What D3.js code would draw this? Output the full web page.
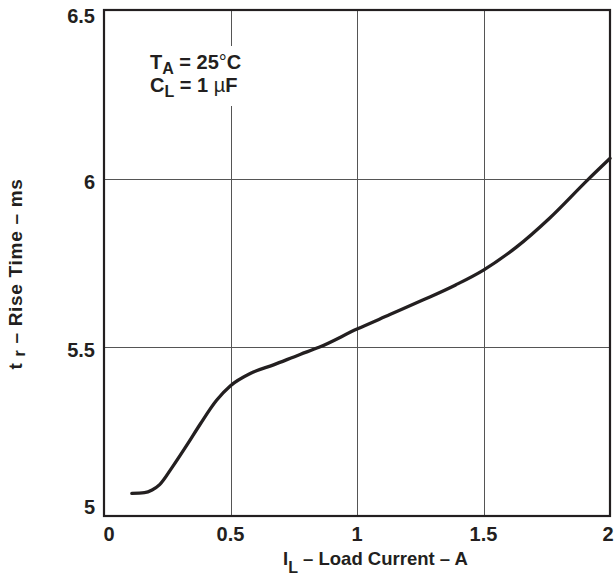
<!DOCTYPE html>
<html>
<head>
<meta charset="utf-8">
<script src="https://cdn.jsdelivr.net/npm/d3@7"></script>
<style>
  html, body { margin: 0; padding: 0; background: #fff; }
  svg { display: block; font-family: "Liberation Sans", Arial, Helvetica, sans-serif; }
</style>
</head>
<body>
<svg id="chart" width="615" height="582"></svg>
<script>
// Load current (A) and rise time (ms) along the curve
const loadCurrent = [0.11, 0.16, 0.19, 0.22, 0.27, 0.33, 0.38, 0.445, 0.5, 0.58, 0.67, 0.775, 0.85, 1.0, 1.13, 1.26, 1.39, 1.5, 1.63, 1.76, 1.91, 2.0];
const riseTime    = [5.067, 5.069, 5.077, 5.093, 5.145, 5.213, 5.272, 5.343, 5.386, 5.423, 5.448, 5.479, 5.5, 5.554, 5.597, 5.64, 5.685, 5.729, 5.797, 5.882, 5.995, 6.06];

const xTickValues = [0, 0.5, 1, 1.5, 2];
const xTickLabels = ["0", "0.5", "1", "1.5", "2"];
const yTickValues = [5, 5.5, 6, 6.5];
const yTickLabels = ["5", "5.5", "6", "6.5"];

const ink = "#231f20";
const svg = d3.select("#chart");

const plot = { left: 104, right: 610, top: 10, bottom: 516 };
const x = d3.scaleLinear().domain([0, 2]).range([plot.left, plot.right]);
const y = d3.scaleLinear().domain([5, 6.5]).range([plot.bottom, plot.top]);

// Grid lines at interior ticks
const grid = svg.append("g").attr("stroke", "#555").attr("stroke-width", 1);
grid.selectAll("line.v")
  .data(xTickValues.slice(1, -1))
  .join("line")
  .attr("x1", d => Math.round(x(d)) + 0.5).attr("x2", d => Math.round(x(d)) + 0.5)
  .attr("y1", plot.top).attr("y2", plot.bottom);
grid.selectAll("line.h")
  .data(yTickValues.slice(1, -1))
  .join("line")
  .attr("y1", d => Math.round(y(d)) + 0.5).attr("y2", d => Math.round(y(d)) + 0.5)
  .attr("x1", plot.left).attr("x2", plot.right);

// Curve
const pts = loadCurrent.map((c, i) => [c, riseTime[i]]);
svg.append("path")
  .datum(pts)
  .attr("fill", "none")
  .attr("stroke", ink)
  .attr("stroke-width", 3.3)
  .attr("stroke-linecap", "round")
  .attr("d", d3.line().x(d => x(d[0])).y(d => y(d[1])).curve(d3.curveMonotoneX));

// Frame
svg.append("rect")
  .attr("x", plot.left).attr("y", plot.top)
  .attr("width", plot.right - plot.left).attr("height", plot.bottom - plot.top)
  .attr("fill", "none").attr("stroke", ink).attr("stroke-width", 2.2);

// X tick labels
const xAxis = d3.axisBottom(x)
  .tickValues(xTickValues)
  .tickFormat((d, i) => xTickLabels[i])
  .tickSize(0).tickPadding(0);
const gx = svg.append("g").attr("transform", `translate(0,${plot.bottom})`).call(xAxis);
gx.select(".domain").remove();
gx.selectAll(".tick").attr("transform", d => `translate(${Math.min(Math.max(x(d), 109), 608)},0)`);
gx.selectAll("text")
  .attr("y", 25).attr("dy", null)
  .attr("font-size", 20).attr("font-weight", "bold")
  .attr("font-family", "Liberation Sans, Arial, sans-serif")
  .attr("fill", ink);

// Y tick labels
const yAxis = d3.axisLeft(y)
  .tickValues(yTickValues)
  .tickFormat((d, i) => yTickLabels[i])
  .tickSize(0).tickPadding(0);
const gy = svg.append("g").attr("transform", `translate(95,0)`).call(yAxis);
gy.select(".domain").remove();
gy.selectAll(".tick").attr("transform", d => `translate(0,${Math.min(Math.max(y(d) + 3, 16), 507)})`);
gy.selectAll("text")
  .attr("x", 0).attr("dy", "0.35em")
  .attr("font-size", 20).attr("font-weight", "bold")
  .attr("font-family", "Liberation Sans, Arial, sans-serif")
  .attr("fill", ink);

// X axis title
const xt = svg.append("text")
  .attr("x", 283).attr("y", 565)
  .attr("text-anchor", "start")
  .attr("font-size", 18.5).attr("font-weight", "bold").attr("fill", ink);
xt.append("tspan").text("I");
xt.append("tspan").attr("dy", 8).attr("font-size", 16).text("L");
xt.append("tspan").attr("dy", -8).text(" – Load Current – A");

// Y axis title
const yt = svg.append("text")
  .attr("transform", "translate(22,274) rotate(-90)")
  .attr("text-anchor", "middle")
  .attr("font-size", 19).attr("letter-spacing", 0.7)
  .attr("font-weight", "bold").attr("fill", ink);
yt.append("tspan").text("t ");
yt.append("tspan").attr("dy", 3).attr("font-size", 16).text("r");
yt.append("tspan").attr("dy", -3).text(" – Rise Time – ms");

// Conditions annotation on a white backing that interrupts the grid
const ann = svg.append("g").attr("font-size", 20).attr("font-weight", "bold").attr("fill", ink);
ann.append("rect")
  .attr("x", 142).attr("y", 46).attr("width", 112).attr("height", 60)
  .attr("fill", "#fff");
const l1 = ann.append("text").attr("x", 150).attr("y", 69);
l1.append("tspan").text("T");
l1.append("tspan").attr("dy", 5).attr("font-size", 16).text("A");
l1.append("tspan").attr("dy", -5).text(" = 25");
l1.append("tspan").attr("font-weight", "normal").text("°");
l1.append("tspan").text("C");
const l2 = ann.append("text").attr("x", 150).attr("y", 92);
l2.append("tspan").text("C");
l2.append("tspan").attr("dy", 5).attr("font-size", 16).text("L");
l2.append("tspan").attr("dy", -5).text(" = 1 ");
l2.append("tspan").attr("font-weight", "normal").text("µ");
l2.append("tspan").text("F");
</script>
</body>
</html>
